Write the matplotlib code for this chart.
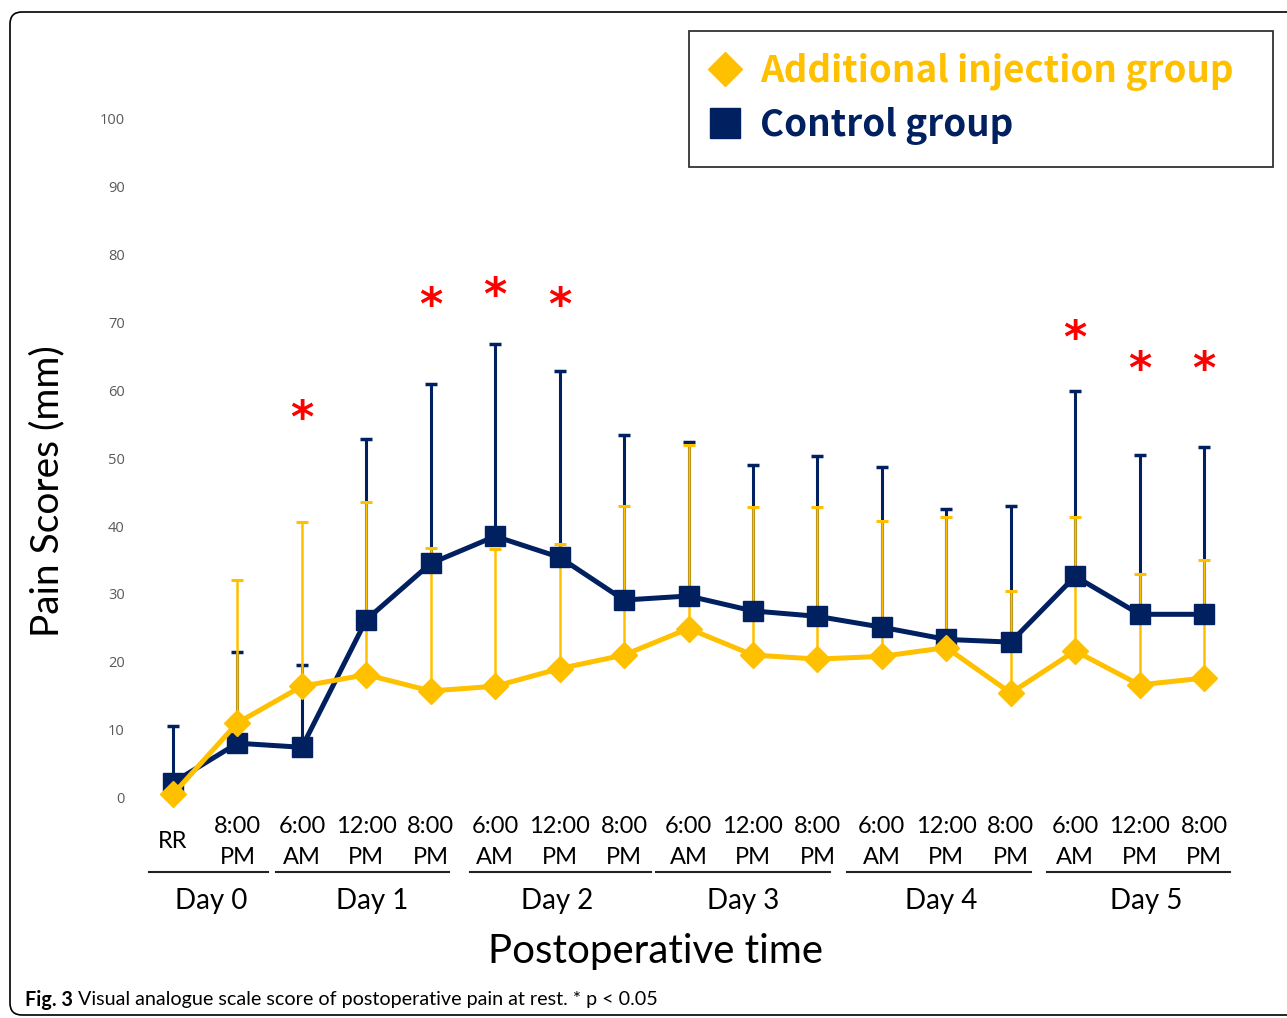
import matplotlib
matplotlib.use('Agg')
import matplotlib.pyplot as plt
from matplotlib.lines import Line2D
from matplotlib.patches import FancyBboxPatch
import numpy as np

# ---------------- data ----------------
time_labels = ["RR", "8:00\nPM",
               "6:00\nAM", "12:00\nPM", "8:00\nPM",
               "6:00\nAM", "12:00\nPM", "8:00\nPM",
               "6:00\nAM", "12:00\nPM", "8:00\nPM",
               "6:00\nAM", "12:00\nPM", "8:00\nPM",
               "6:00\nAM", "12:00\nPM", "8:00\nPM"]
day_labels = ["Day 0", "Day 1", "Day 2", "Day 3", "Day 4", "Day 5"]

additional_mean = [0.5, 11.0, 16.4, 18.1, 15.7, 16.4, 19.0, 21.0, 24.9,
                   21.0, 20.4, 20.8, 22.1, 15.4, 21.6, 16.6, 17.6]
additional_sd = [0.0, 21.0, 24.2, 25.5, 21.0, 20.2, 18.4, 21.9, 27.0,
                 21.8, 22.4, 20.0, 19.2, 15.1, 19.7, 16.3, 17.4]
control_mean = [2.2, 8.0, 7.4, 26.2, 34.5, 38.5, 35.4, 29.1, 29.7,
                27.5, 26.7, 25.1, 23.3, 22.9, 32.6, 27.0, 27.0]
control_sd = [8.4, 13.4, 12.2, 26.6, 26.4, 28.3, 27.5, 24.4, 22.7,
              21.5, 23.6, 23.6, 19.2, 20.0, 27.3, 23.5, 24.7]

sig_index = [2, 4, 5, 6, 14, 15, 16]
sig_height = [57.0, 73.6, 75.0, 73.6, 68.8, 64.2, 64.2]

y_ticks = [0, 10, 20, 30, 40, 50, 60, 70, 80, 90, 100]

series_names = ["Additional injection group", "Control group"]

# ---------------- layout (in x-data units) ----------------
day_line_start = [-0.37, 1.60, 4.61, 7.50, 10.46, 13.56]
day_line_end = [1.47, 4.28, 7.42, 10.20, 13.31, 16.40]
day_text_x = [0.59, 3.09, 5.96, 8.85, 11.92, 15.10]

# ---------------- style ----------------
YELLOW = "#FFC000"
NAVY = "#002060"
W, H = 1287, 1018
DPI = 100

fig = plt.figure(figsize=(W / DPI, H / DPI), dpi=DPI)
fig.patch.set_facecolor("white")

ax_left, ax_right = 140, 1240
ax_bottom, ax_top = 797.5, 119
ax = fig.add_axes([ax_left / W, (H - ax_bottom) / H,
                   (ax_right - ax_left) / W, (ax_bottom - ax_top) / H])

x = np.arange(len(time_labels))
step = (1204 - 173) / 16.0
ax.set_xlim(-(173 - ax_left) / step, 16 + (ax_right - 1204) / step)
ax.set_ylim(0, 100)

zeros = np.zeros(len(x))
ax.errorbar(x, control_mean, yerr=[zeros, control_sd], fmt='none',
            ecolor=NAVY, elinewidth=2.2, capsize=4, capthick=2.5, zorder=2)
ax.errorbar(x, additional_mean, yerr=[zeros, additional_sd], fmt='none',
            ecolor=YELLOW, elinewidth=1.8, capsize=4, capthick=2.2, zorder=3)
ax.plot(x, control_mean, color=NAVY, lw=3.6, marker='s', ms=14,
        zorder=4, clip_on=False)
ax.plot(x, additional_mean, color=YELLOW, lw=3.6, marker='D', ms=13,
        zorder=5, clip_on=False)

for i, h in zip(sig_index, sig_height):
    ax.annotate("*", (i, h), xytext=(0, -6), textcoords='offset points',
                color="#FF0000", fontsize=32, ha='center', va='center',
                family="DejaVu Sans", fontweight='bold')

for s in ax.spines.values():
    s.set_visible(False)

ax.set_yticks(y_ticks)
ax.set_yticklabels([str(v) for v in y_ticks], family="Open Sans",
                   fontsize=10.5, color="#595959")
ax.tick_params(axis='y', length=0, pad=11)

ax.set_xticks(x)
ax.set_xticklabels(time_labels, family="Lato", fontsize=17, color="black",
                   linespacing=1.55)
ax.tick_params(axis='x', length=0, pad=32)
for lbl in ax.get_xticklabels():
    lbl.set_va('center')

xt = ax.get_xaxis_transform()
def fy(py):
    return (ax_bottom - py) / (ax_bottom - ax_top)

for name, a, b, tx in zip(day_labels, day_line_start, day_line_end, day_text_x):
    ax.plot([a, b], [fy(872), fy(872)], transform=xt,
            color="#222222", lw=1.5, clip_on=False)
    ax.text(tx, fy(901), name, transform=xt, ha='center',
            va='center', family="Lato", fontsize=20)

ax.text((656 - ax_left) / (ax_right - ax_left), fy(951), "Postoperative time",
        transform=ax.transAxes, ha='center', va='center', family="Lato",
        fontsize=29)
ax.text(-0.0845, fy(491), "Pain Scores (mm)", transform=ax.transAxes,
        ha='center', va='center', rotation=90, family="Lato", fontsize=28)

# legend
handles = [Line2D([], [], ls='none', marker='D', ms=17, color=YELLOW),
           Line2D([], [], ls='none', marker='s', ms=22, color=NAVY)]
leg = fig.legend(handles, series_names, loc='upper left',
                 bbox_to_anchor=(689 / W, (H - 164) / H, 584 / W, 133 / H),
                 bbox_transform=fig.transFigure, mode='expand', frameon=True,
                 fancybox=False, edgecolor="black", borderaxespad=0,
                 prop={'family': 'Noto Sans CJK JP', 'weight': 'bold',
                       'size': 26.5},
                 handlelength=0.75, handletextpad=0.58, borderpad=0.6,
                 labelspacing=0.44)
leg.get_frame().set_linewidth(1.3)
for t, c in zip(leg.get_texts(), [YELLOW, NAVY]):
    t.set_color(c)

# caption
r = fig.canvas.get_renderer()
t1 = fig.text(25 / W, 1 - 1000 / H, "Fig. 3", family="Lato", fontsize=14.2,
              fontweight='bold', va='center', ha='left')
bb = t1.get_window_extent(r)
fig.text((bb.x1 + 5) / W, 1 - 1000 / H,
         "Visual analogue scale score of postoperative pain at rest. * p < 0.05",
         family="Lato", fontsize=14.2, va='center', ha='left')

# outer rounded frame
frame = FancyBboxPatch((0.10, 0.03), 13.2, 10.03,
                       boxstyle="round,pad=0,rounding_size=0.12",
                       transform=fig.dpi_scale_trans, fill=False,
                       edgecolor="black", lw=1.2, clip_on=False)
fig.patches.append(frame)

fig.savefig("out.png", dpi=DPI)
